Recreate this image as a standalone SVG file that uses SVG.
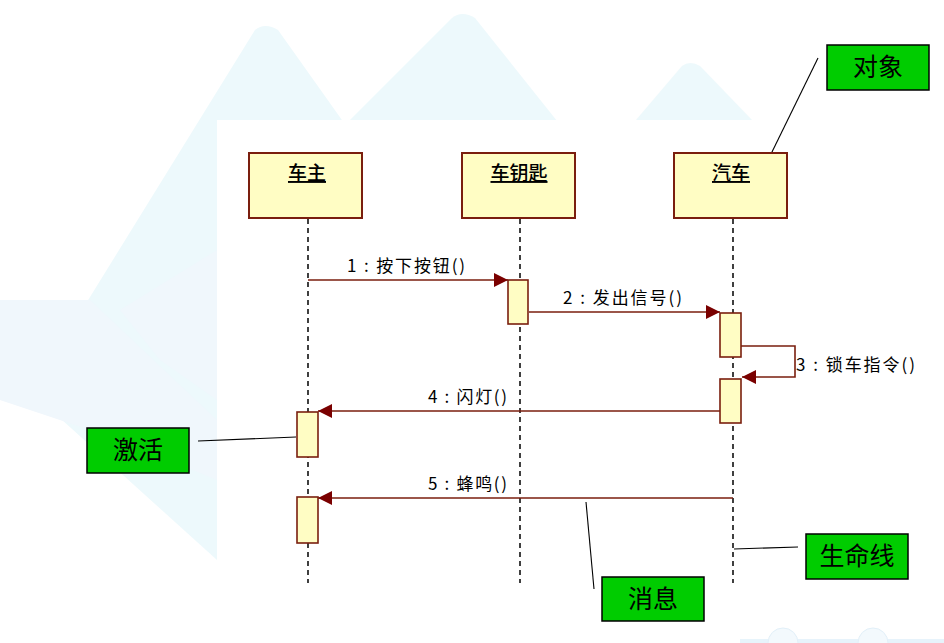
<svg xmlns="http://www.w3.org/2000/svg" width="944" height="643" viewBox="0 0 944 643">
  <style>
    .obj { fill: #FFFDC4; stroke: #7A1E0E; stroke-width: 2; }
    .act { fill: #FFFDC4; stroke: #7A1E0E; stroke-width: 1.6; }
    .life { stroke: #111; stroke-width: 1.6; stroke-dasharray: 5 4; fill: none; }
    .msg { stroke: #7A1E0E; stroke-width: 1.6; fill: none; }
    .note { fill: #00CC00; stroke: #000; stroke-width: 1.5; }
    .lead { stroke: #000; stroke-width: 1.1; fill: none; }
    .oname { font-family: "Noto Sans CJK SC", sans-serif; font-size: 19px; font-weight: 500; fill: #000; text-anchor: middle; text-decoration: underline; }
    .mlabel { font-family: "Noto Sans CJK SC", sans-serif; font-size: 17px; fill: #000; }
    .ntext { font-family: "Noto Sans CJK SC", sans-serif; font-size: 25px; fill: #000; text-anchor: middle; }
    .bg { fill: #E6F7FB; }
    .bg2 { fill: #EAF4FC; }
  </style>
  <defs>
    <marker id="arrow" viewBox="0 0 14 14" refX="14" refY="7" markerWidth="14" markerHeight="14" markerUnits="userSpaceOnUse" orient="auto">
      <path d="M0,0 L14,7 L0,14 Z" fill="#7A0000"/>
    </marker>
  </defs>

  <!-- backdrop -->
  <rect x="0" y="0" width="944" height="643" fill="#FFFFFF"/>
  <g id="backdrop" opacity="0.7">
    <path class="bg" d="M255,30 Q265,22 278,30 L420,230 L420,330 L217,560 L40,400 Q30,390 40,378 Z"/>
    <path class="bg" d="M452,18 Q462,10 475,18 L620,200 L420,200 L330,140 Z"/>
    <path class="bg" d="M682,66 Q690,60 700,66 L752,120 L636,120 Z"/>
    <path class="bg2" d="M0,300 L90,300 L217,420 L217,480 L120,440 L0,400 Z"/>
    <path class="bg2" d="M120,310 L217,250 L217,400 L160,360 Z"/>
    <rect x="740" y="639" width="204" height="4" fill="#DDEFFA"/>
    <circle cx="783" cy="643" r="15" fill="#EEF7FD" stroke="#D6EAF6"/>
    <circle cx="873" cy="643" r="15" fill="#EEF7FD" stroke="#D6EAF6"/>
  </g>
  <rect x="217" y="120" width="543" height="480" fill="#FFFFFF"/>

  <!-- lifelines and messages -->
  <g id="connectors">
    <line class="life" x1="308" y1="219" x2="308" y2="583"/>
    <line class="life" x1="520" y1="219" x2="520" y2="583"/>
    <line class="life" x1="733" y1="219" x2="733" y2="583"/>

    <line class="msg" x1="308" y1="280" x2="508" y2="280" marker-end="url(#arrow)"/>
    <line class="msg" x1="529" y1="312" x2="720" y2="312" marker-end="url(#arrow)"/>
    <polyline class="msg" points="741,346 795,346 795,377 742,377" marker-end="url(#arrow)"/>
    <line class="msg" x1="720" y1="411" x2="318" y2="411" marker-end="url(#arrow)"/>
    <line class="msg" x1="733" y1="498" x2="318" y2="498" marker-end="url(#arrow)"/>

    <line class="lead" x1="818" y1="58" x2="771" y2="154"/>
    <line class="lead" x1="198" y1="441" x2="296" y2="437"/>
    <line class="lead" x1="734" y1="549" x2="798" y2="547"/>
    <line class="lead" x1="586" y1="502" x2="594" y2="589"/>
  </g>

  <!-- objects -->
  <g id="owner">
    <rect class="obj" x="249" y="153" width="113" height="65"/>
    <text class="oname" x="307" y="180">车主</text>
    <rect class="act" x="297" y="412" width="21" height="45"/>
    <rect class="act" x="297" y="497" width="21" height="46"/>
  </g>
  <g id="carkey">
    <rect class="obj" x="462" y="153" width="113" height="65"/>
    <text class="oname" x="519" y="180">车钥匙</text>
    <rect class="act" x="508" y="280" width="20" height="44"/>
  </g>
  <g id="car">
    <rect class="obj" x="674" y="153" width="113" height="65"/>
    <text class="oname" x="731" y="180">汽车</text>
    <rect class="act" x="720" y="313" width="21" height="44"/>
    <rect class="act" x="720" y="379" width="21" height="44"/>
  </g>

  <!-- message labels -->
  <g id="labels">
    <text class="mlabel" x="347" y="272" textLength="118" lengthAdjust="spacing">1 : 按下按钮()</text>
    <text class="mlabel" x="563" y="304" textLength="119" lengthAdjust="spacing">2 : 发出信号()</text>
    <text class="mlabel" x="796" y="371" textLength="119" lengthAdjust="spacing">3 : 锁车指令()</text>
    <text class="mlabel" x="428" y="403" textLength="79" lengthAdjust="spacing">4 : 闪灯()</text>
    <text class="mlabel" x="428" y="490" textLength="79" lengthAdjust="spacing">5 : 蜂鸣()</text>
  </g>

  <!-- callouts -->
  <g id="note-object">
    <rect class="note" x="827" y="45" width="102" height="45"/>
    <text class="ntext" x="878" y="76">对象</text>
  </g>
  <g id="note-activation">
    <rect class="note" x="87" y="428" width="102" height="45"/>
    <text class="ntext" x="138" y="459">激活</text>
  </g>
  <g id="note-lifeline">
    <rect class="note" x="806" y="534" width="102" height="45"/>
    <text class="ntext" x="857" y="565">生命线</text>
  </g>
  <g id="note-message">
    <rect class="note" x="602" y="577" width="102" height="44"/>
    <text class="ntext" x="653" y="608">消息</text>
  </g>
</svg>
